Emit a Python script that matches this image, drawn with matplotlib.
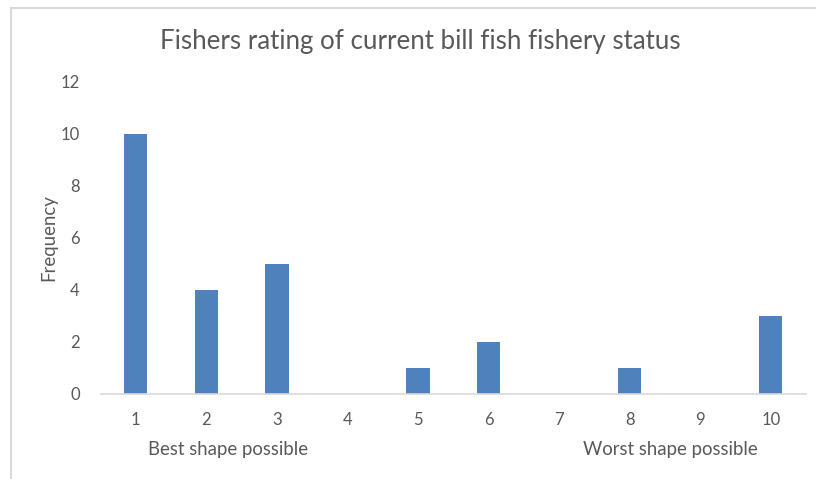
import matplotlib.pyplot as plt
from matplotlib.lines import Line2D

# ratings 1 (best) .. 10 (worst) and how many fishers gave each
ratings = ['1', '2', '3', '4', '5', '6', '7', '8', '9', '10']
frequency = [10, 4, 5, 0, 1, 2, 0, 1, 0, 3]
yticks = [0, 2, 4, 6, 8, 10, 12]

plt.rcParams['font.family'] = ['Lato', 'DejaVu Sans']
grey = '#595959'

fig = plt.figure(figsize=(8.16, 4.79), dpi=100)
W, H = 816, 479

# chart area frame (only top/left edges are visible)
fig.add_artist(Line2D([10.5 / W, 10.5 / W], [0, 1 - 7.5 / H], color='#d9d9d9', lw=1.5))
fig.add_artist(Line2D([10.5 / W, 1], [1 - 7.5 / H, 1 - 7.5 / H], color='#d9d9d9', lw=1.5))

ax = fig.add_axes([100.5 / W, (H - 394) / H, 705.5 / W, 312 / H])
x = list(range(len(ratings)))
ax.bar(x, frequency, width=0.33, color='#4f81bd')
ax.set_xlim(-0.5, len(ratings) - 0.5)
ax.set_ylim(0, 12)
ax.set_yticks(yticks)
ax.set_xticks(x)
ax.set_xticklabels(ratings)

for s in ['top', 'right', 'left']:
    ax.spines[s].set_visible(False)
ax.spines['bottom'].set_color('#d9d9d9')
ax.spines['bottom'].set_linewidth(1.2)
ax.tick_params(length=0, labelsize=12, colors=grey)
ax.tick_params(axis='y', pad=15)
ax.tick_params(axis='x', pad=13)

ax.set_ylabel('Frequency', fontsize=13.4, color=grey, labelpad=2)

fig.text(420 / W, 1 - 42 / H, 'Fishers rating of current bill fish fishery status',
         ha='center', va='center', fontsize=18.6, color=grey)
fig.text(228 / W, 1 - 449 / H, 'Best shape possible', ha='center', va='center',
         fontsize=13.4, color=grey)
fig.text(670 / W, 1 - 449 / H, 'Worst shape possible', ha='center', va='center',
         fontsize=13.4, color=grey)

fig.savefig('out.png', dpi=100)
